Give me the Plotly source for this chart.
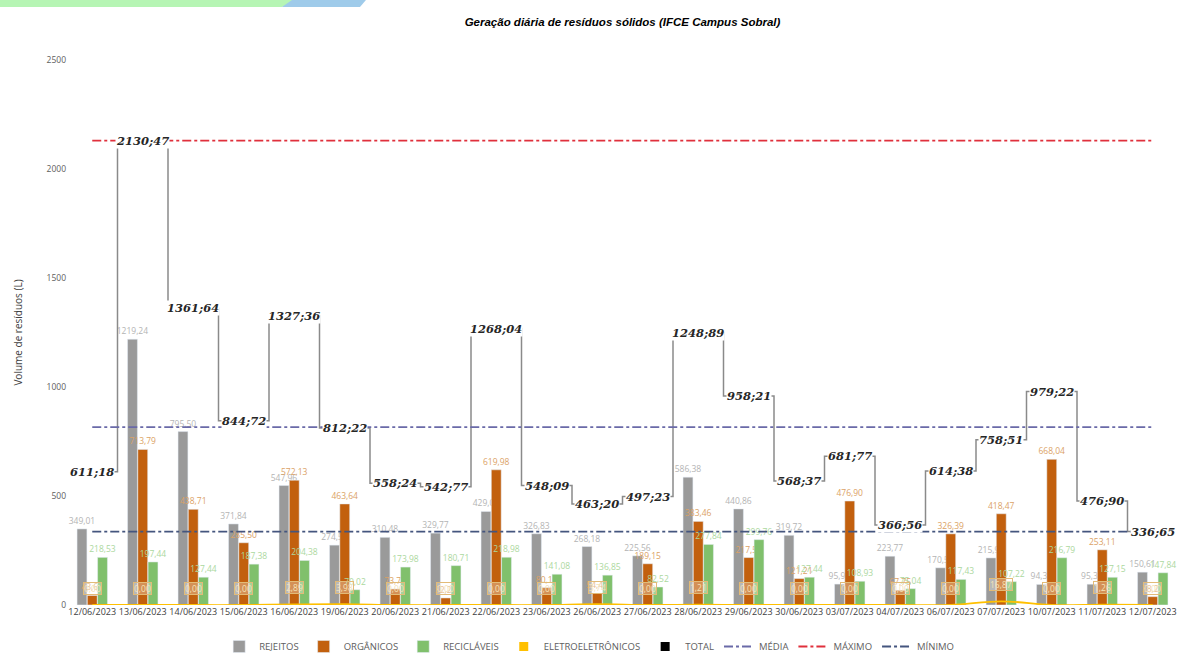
import plotly.graph_objects as go

# Daily solid-waste volume (litres) per category
datas = ["12/06/2023", "13/06/2023", "14/06/2023", "15/06/2023", "16/06/2023",
         "19/06/2023", "20/06/2023", "21/06/2023", "22/06/2023", "23/06/2023",
         "26/06/2023", "27/06/2023", "28/06/2023", "29/06/2023", "30/06/2023",
         "03/07/2023", "04/07/2023", "06/07/2023", "07/07/2023", "10/07/2023",
         "11/07/2023", "12/07/2023"]

rejeitos = [349.01, 1219.24, 795.50, 371.84, 547.96, 274.58, 310.48, 329.77, 429.08, 326.83,
            268.18, 225.56, 586.38, 440.86, 319.72, 95.94, 223.77, 170.56, 215.95, 94.39,
            95.38, 150.61]
organicos = [43.64, 713.79, 438.71, 285.50, 572.13, 463.64, 73.78, 32.29, 619.98, 80.17,
             54.43, 189.15, 383.46, 217.59, 121.21, 476.90, 67.75, 326.39, 418.47, 668.04,
             253.11, 38.20]
reciclaveis = [218.53, 197.44, 127.44, 187.38, 204.38, 70.02, 173.98, 180.71, 218.98, 141.08,
               136.85, 82.52, 277.84, 299.76, 127.44, 108.93, 75.04, 117.43, 107.22, 216.79,
               127.15, 147.84]
eletro = [0.00, 0.00, 0.00, 0.00, 2.89, 3.98, 0.00, 0.00, 0.00, 0.00,
          3.74, 0.00, 1.21, 0.00, 0.00, 0.00, 0.00, 0.00, 16.87, 0.00,
          1.26, 0.00]
total = [611.18, 2130.47, 1361.64, 844.72, 1327.36, 812.22, 558.24, 542.77, 1268.04, 548.09,
         463.20, 497.23, 1248.89, 958.21, 568.37, 681.77, 366.56, 614.38, 758.51, 979.22,
         476.90, 336.65]

media = sum(total) / len(total)
maximo = max(total)
minimo = min(total)

y_ticks = [0, 500, 1000, 1500, 2000, 2500]

C_REJ = "#9a9a9a"
C_ORG = "#c2600e"
C_REC = "#80c06c"
C_ELE = "#ffc000"
C_TOT = "#8a8a8a"
C_MED = "#6a6aa8"
C_MAX = "#e0303c"
C_MIN = "#44557e"

fig = go.Figure()

label_font = dict(family="Open Sans", size=8.5)

fig.add_trace(go.Bar(x=datas, y=rejeitos, name="REJEITOS", marker_color=C_REJ,
                     texttemplate="%{y:.2f}", textposition="outside",
                     textfont=dict(label_font, color="#b4b4b4"),
                     constraintext="none", cliponaxis=False))
fig.add_trace(go.Bar(x=datas, y=organicos, name="ORGÂNICOS", marker_color=C_ORG,
                     texttemplate="%{y:.2f}", textposition="outside",
                     textfont=dict(label_font, color="#dba266"),
                     constraintext="none", cliponaxis=False))
fig.add_trace(go.Bar(x=datas, y=reciclaveis, name="RECICLÁVEIS", marker_color=C_REC,
                     texttemplate="%{y:.2f}", textposition="outside",
                     textfont=dict(label_font, color="#acd89e"),
                     constraintext="none", cliponaxis=False))

# Electronics is drawn as a thin line along the base
fig.add_trace(go.Scatter(x=datas, y=eletro, name="ELETROELETRÔNICOS", mode="lines",
                         line=dict(color=C_ELE, width=1.8, shape="spline"),
                         showlegend=False, cliponaxis=False))
fig.add_trace(go.Scatter(x=[None], y=[None], name="ELETROELETRÔNICOS", mode="markers",
                         marker=dict(symbol="square", size=9, color=C_ELE)))

# Daily total as a stepped line
fig.add_trace(go.Scatter(x=datas, y=total, name="TOTAL", mode="lines",
                         line=dict(color=C_TOT, width=1.5, shape="hvh"),
                         showlegend=False))
fig.add_trace(go.Scatter(x=[None], y=[None], name="TOTAL", mode="markers",
                         marker=dict(symbol="square", size=9, color="black")))

# Reference levels
for nome, valor, cor in [("MÉDIA", media, C_MED), ("MÁXIMO", maximo, C_MAX), ("MÍNIMO", minimo, C_MIN)]:
    fig.add_trace(go.Scatter(x=[datas[0], datas[-1]], y=[valor, valor], name=nome, mode="lines",
                             line=dict(color=cor, width=1.8, dash="dashdot")))


def fmt(v, sep=","):
    return f"{v:.2f}".replace(".", sep)


annotations = []
for d, t in zip(datas, total):
    annotations.append(dict(x=d, y=t, text=fmt(t, ";"), showarrow=False,
                            font=dict(family="DejaVu Serif", size=11.5, color="#262626",
                                      style="italic", weight="bold"),
                            bgcolor="white", borderpad=0))
for d, e in zip(datas, eletro):
    annotations.append(dict(x=d, y=e, text=fmt(e), showarrow=False, yshift=17,
                            font=dict(family="Open Sans", size=8.5, color="#f4e2b8"),
                            bgcolor="rgba(255,255,255,0.3)", bordercolor="#e2bb78",
                            borderwidth=1, borderpad=0))

ML, MT, MB, W, H = 67, 60, 50, 1178, 655
PW, PH = W - ML, H - MT - MB


def px(xp, yp):
    return (xp - ML) / PW, (H - MB - yp) / PH


def poly(points):
    pts = [px(a, b) for a, b in points]
    return "M " + " L ".join(f"{a:.4f},{b:.4f}" for a, b in pts) + " Z"


shapes = [
    dict(type="path", xref="paper", yref="paper", line_width=0, fillcolor="#b6f5b4",
         path=poly([(0, 0), (300, 0), (282, 7), (0, 7)])),
    dict(type="path", xref="paper", yref="paper", line_width=0, fillcolor="#9fcbea",
         path=poly([(292, 0), (366, 0), (360, 7), (282, 7)])),
]

fig.update_layout(
    width=W, height=H,
    margin=dict(l=ML, r=0, t=MT, b=MB, autoexpand=False),
    plot_bgcolor="white", paper_bgcolor="white",
    separators=",.",
    hovermode=False,
    barmode="group", bargap=0.39, bargroupgap=0.04,
    title=dict(text="Geração diária de resíduos sólidos (IFCE Campus Sobral)",
               x=0.5, xref="paper", y=0.966, yanchor="middle",
               font=dict(family="Liberation Sans", size=11.5, color="black",
                         style="italic", weight="bold")),
    xaxis=dict(type="category", showgrid=False, showline=False, ticks="",
               tickfont=dict(family="Open Sans", size=9, color="#404040"), tickangle=0),
    yaxis=dict(range=[0, 2500], tickvals=y_ticks, showgrid=False, zeroline=False,
               showline=False, ticks="",
               tickfont=dict(family="Open Sans", size=8.5, color="#606060"),
               title=dict(text="Volume de resíduos (L)",
                          font=dict(family="Open Sans", size=10, color="#404040"),
                          standoff=22)),
    legend=dict(orientation="h", x=0.47, xanchor="center", y=(605 - 632) / PH, yanchor="top",
                font=dict(family="Open Sans", size=9.5, color="#606060"),
                itemwidth=30, tracegroupgap=0, traceorder="normal"),
    annotations=annotations,
    shapes=shapes,
)

fig.write_html("out.html")
